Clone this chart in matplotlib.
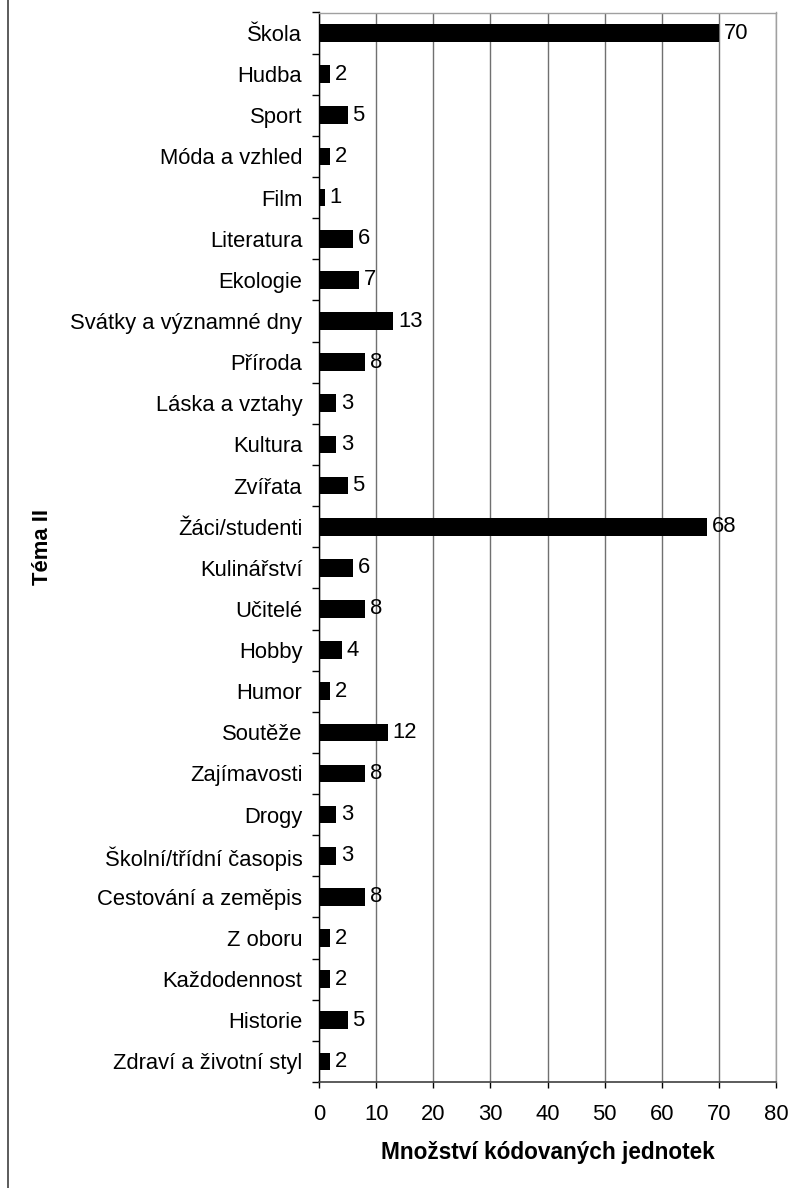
import matplotlib
matplotlib.use("Agg")
import matplotlib.pyplot as plt
from matplotlib.lines import Line2D

categories = ["Škola", "Hudba", "Sport", "Móda a vzhled", "Film", "Literatura",
              "Ekologie", "Svátky a významné dny", "Příroda", "Láska a vztahy",
              "Kultura", "Zvířata", "Žáci/studenti", "Kulinářství", "Učitelé",
              "Hobby", "Humor", "Soutěže", "Zajímavosti", "Drogy",
              "Školní/třídní časopis", "Cestování a zeměpis", "Z oboru",
              "Každodennost", "Historie", "Zdraví a životní styl"]
values = [70, 2, 5, 2, 1, 6, 7, 13, 8, 3, 3, 5, 68, 6, 8, 4, 2, 12, 8, 3, 3, 8, 2, 2, 5, 2]
xticks = [0, 10, 20, 30, 40, 50, 60, 70, 80]

plt.rcParams['font.family'] = ['Liberation Sans', 'DejaVu Sans']
FS = 15.8

fig = plt.figure(figsize=(7.98, 11.88), dpi=100)
ax = fig.add_axes([319/798, 1 - 1082/1188, (776-319)/798, (1082-12.5)/1188])

n = len(categories)
ypos = list(range(n))
ax.barh(ypos, values, height=0.43, color='black', zorder=3)
for y, v in zip(ypos, values):
    ax.annotate(str(v), (v, y), xytext=(3.5, 0), textcoords='offset points',
                va='center', ha='left', fontsize=FS, zorder=4)

ax.set_xlim(0, 80)
ax.set_ylim(n - 0.5, -0.5)
ax.set_xticks(xticks)
ax.set_xticklabels([str(t) for t in xticks], fontsize=FS)
ax.set_yticks(ypos)
ax.set_yticklabels(categories, fontsize=FS)
ax.set_yticks([i - 0.5 for i in range(n + 1)], minor=True)
ax.tick_params(axis='y', which='major', length=0, pad=12)
ax.tick_params(axis='y', which='minor', length=5, width=1, color='black')
ax.tick_params(axis='x', length=4.5, width=1, color='black', pad=11)

ax.xaxis.grid(True, color='#707070', linewidth=1, zorder=0)
ax.set_axisbelow(True)
for s in ['top', 'right']:
    ax.spines[s].set_color('#a0a0a0')
    ax.spines[s].set_linewidth(1)
ax.spines['left'].set_color('black')
ax.spines['left'].set_linewidth(1)
ax.spines['bottom'].set_color('#404040')
ax.spines['bottom'].set_linewidth(1.2)

fig.text(547.5/798, 1 - 1153/1188, "Množství kódovaných jednotek", ha='center', va='center',
         fontsize=16.3, fontweight='bold')
fig.text(43/798, 1 - 547/1188, "Téma II", ha='center', va='center', rotation=90,
         fontsize=FS, fontweight='bold')

fig.add_artist(Line2D([8/798, 8/798], [0, 1], transform=fig.transFigure, color='#404040', linewidth=1.2))

fig.savefig("out.png", dpi=100)
